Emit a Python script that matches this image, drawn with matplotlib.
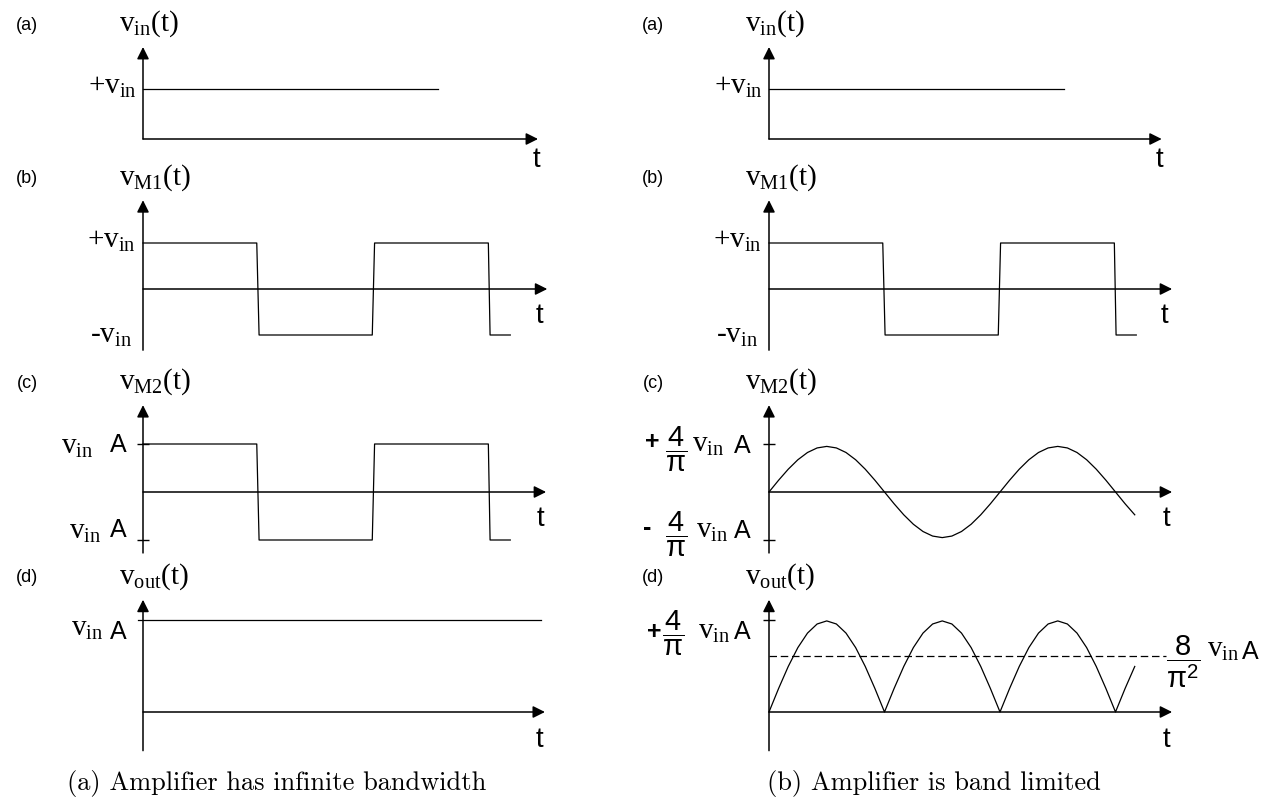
import numpy as np
import matplotlib
matplotlib.use('Agg')
import matplotlib.pyplot as plt

plt.rcParams['mathtext.fontset'] = 'custom'
plt.rcParams['mathtext.rm'] = 'Liberation Serif'
plt.rcParams['mathtext.it'] = 'Liberation Serif:italic'
plt.rcParams['mathtext.bf'] = 'Liberation Serif:bold'
plt.rcParams['mathtext.sf'] = 'Liberation Sans'

SERIF = 'Liberation Serif'
SANS = 'Liberation Sans'

# ---- data (time in half-periods, levels relative to the marked amplitude)
vin_t = [0, 2.55]
vin_v = [1, 1]

# chopped square wave v_M1 / v_M2 (slightly slanted edges)
sq_t = [0, 0.985, 1.005, 1.985, 2.005, 2.99, 3.005, 3.18]
sq_v = [1, 1, -1, -1, 1, 1, -1, -1]

# ideal output level
vout_flat_t = [-0.04, 3.45]
vout_flat_v = [1, 1]

# band limited v_M2, sampled every 1/12 half-period
sine_t = np.arange(39) / 12.0
vm2 = [0, .246, .475, .672, .823, .918, .95, .918, .823, .672, .475, .246,
       0, -.246, -.475, -.672, -.823, -.918, -.95, -.918, -.823, -.672, -.475, -.246,
       0, .246, .475, .672, .823, .918, .95, .918, .823, .672, .475, .246,
       0, -.246, -.475]
vm2_peak = 0.95
vout_peak = 0.99
vout = np.abs(vm2) / vm2_peak * vout_peak

avg_level = 0.61     # 8/pi^2 vin A relative to 4/pi vin A
avg_end = 3.44

# ---- layout (pixels)
W, H = 1279, 805
SX = 115.5  # px per half-period
cols = {'L': (0, 626, 143), 'R': (626, 1279, 769)}
rows = {'a': (0, 170, 139, 50), 'b': (170, 370, 289, 46),
        'c': (370, 570, 492, 48), 'd': (570, 765, 712, 92)}
ytips = {'a': 1.84, 'b': 1.93, 'c': 1.81, 'd': 1.22}
ybots = {'a': 0, 'b': -1.33, 'c': -1.27, 'd': -0.42}
xtips = {('L', 'a'): 3.42, ('L', 'b'): 3.50, ('L', 'c'): 3.49, ('L', 'd'): 3.48,
         ('R', 'a'): 3.40, ('R', 'b'): 3.49, ('R', 'c'): 3.49, ('R', 'd'): 3.49}

fig = plt.figure(figsize=(W / 100, H / 100), dpi=100)

AP = dict(arrowstyle='-|>,head_length=0.72,head_width=0.36', mutation_scale=10,
          lw=1.1, color='black', shrinkA=0, shrinkB=0)

FS = 21     # serif v labels
FA = 18     # sans "A"
FF = 21     # fractions


def panel(c, r):
    left, right, x0 = cols[c]
    top, bot, y0, sy = rows[r]
    ax = fig.add_axes([left / W, 1 - bot / H, (right - left) / W, (bot - top) / H])
    ax.set_xlim((left - x0) / SX, (right - x0) / SX)
    ax.set_ylim((y0 - bot) / sy, (y0 - top) / sy)
    ax.axis('off')
    ax.annotate('', xy=(0, ytips[r]), xytext=(0, ybots[r]), arrowprops=AP)
    ax.annotate('', xy=(xtips[(c, r)], 0), xytext=(0, 0), arrowprops=AP)
    return ax


def lab(ax, s, xy, dx, dy, size=FS, family=SERIF, ha='center', va='center', **kw):
    ax.annotate(s, xy=xy, xytext=(dx, -dy), textcoords='offset pixels',
                fontsize=size, family=family, ha=ha, va=va,
                annotation_clip=False, **kw)


titles = {'a': r'$\mathrm{v_{in}(t)}$', 'b': r'$\mathrm{v_{M1}(t)}$',
          'c': r'$\mathrm{v_{M2}(t)}$', 'd': r'$\mathrm{v_{out}(t)}$'}
t_off = {'a': (-2, 21), 'b': (-8, 27), 'c': (-6, 27), 'd': (-6, 28)}

axs = {}
for c in cols:
    for r in rows:
        ax = panel(c, r)
        axs[(c, r)] = ax
        lab(ax, titles[r], (0, ytips[r]), -24, -23, ha='left')
        lab(ax, '(%s)' % r, (0, ytips[r]), -116, -22, size=13, family=SANS)
        lab(ax, 't', (xtips[(c, r)], 0), t_off[r][0], t_off[r][1], size=20, family=SANS)

LW = 0.9
VIN = r'$\mathrm{v_{in}}$'
for c in cols:
    # (a) input step
    ax = axs[(c, 'a')]
    ax.plot(vin_t, vin_v, color='black', lw=LW)
    lab(ax, '+' + VIN, (0, 1), -6, -2, ha='right')
    # (b) chopped input
    ax = axs[(c, 'b')]
    ax.plot(sq_t, sq_v, color='black', lw=LW)
    lab(ax, '+' + VIN, (0, 1), -7, -2, ha='right')
    lab(ax, '-' + VIN, (0, -1), -11, 1, ha='right')

# left column: infinite bandwidth
ax = axs[('L', 'c')]
ax.plot(sq_t, sq_v, color='black', lw=LW)
ax.plot([0, 0], [1, -1], ls='none', marker='_', ms=9, mew=1.0, color='black')
lab(ax, VIN, (0, 1), -50, 3, ha='right')
lab(ax, 'A', (0, 1), -25, 1, size=FA, family=SANS)
lab(ax, VIN, (0, -1), -42, -8, ha='right')
lab(ax, 'A', (0, -1), -25, -10, size=FA, family=SANS)

ax = axs[('L', 'd')]
ax.plot(vout_flat_t, vout_flat_v, color='black', lw=LW)
lab(ax, VIN, (0, 1), -40, 9, ha='right')
lab(ax, 'A', (0, 1), -25, 12, size=FA, family=SANS)

# right column: band limited
FRAC4 = r'$\dfrac{\mathsf{4}}{\mathsf{\pi}}$'
ax = axs[('R', 'c')]
ax.plot(sine_t, vm2, color='black', lw=LW)
ax.plot([0, 0], [1, -1], ls='none', marker='_', ms=9, mew=1.0, color='black')
lab(ax, '+', (0, 1), -117, -2, size=FA, family=SANS, weight='bold')
lab(ax, FRAC4, (0, 1), -93, 5, size=FF)
lab(ax, VIN, (0, 1), -77, 1, ha='left')
lab(ax, 'A', (0, 1), -27, 2, size=FA, family=SANS)
lab(ax, '-', (0, -1), -122, -12, size=FA, family=SANS, weight='bold')
lab(ax, FRAC4, (0, -1), -93, -6, size=FF)
lab(ax, VIN, (0, -1), -73, -9, ha='left')
lab(ax, 'A', (0, -1), -27, -9, size=FA, family=SANS)

ax = axs[('R', 'd')]
ax.plot(sine_t, vout, color='black', lw=LW)
ax.plot([0, avg_end], [avg_level, avg_level], color='black', lw=LW,
        ls=(0, (6, 3)))
ax.plot([0], [1], ls='none', marker='_', ms=9, mew=1.0, color='black')
lab(ax, '+', (0, 1), -115, 12, size=FA, family=SANS, weight='bold')
lab(ax, FRAC4, (0, 1), -96, 13, size=FF)
lab(ax, VIN, (0, 1), -71, 12, ha='left')
lab(ax, 'A', (0, 1), -27, 12, size=FA, family=SANS)
lab(ax, r'$\dfrac{\mathsf{8}}{\mathsf{\pi}^{\mathsf{2}}}$', (avg_end, avg_level), 17, 6, size=FF)
lab(ax, VIN, (avg_end, avg_level), 41, -6, ha='left')
lab(ax, 'A', (avg_end, avg_level), 84, -4, size=FA, family=SANS)

# captions
fig.text(277 / W, 1 - 783 / H, '(a) Amplifier has infinite bandwidth',
         family='cmr10', fontsize=19, ha='center', va='center')
fig.text(934 / W, 1 - 783 / H, '(b) Amplifier is band limited',
         family='cmr10', fontsize=19, ha='center', va='center')

fig.savefig('out.png', dpi=100)
